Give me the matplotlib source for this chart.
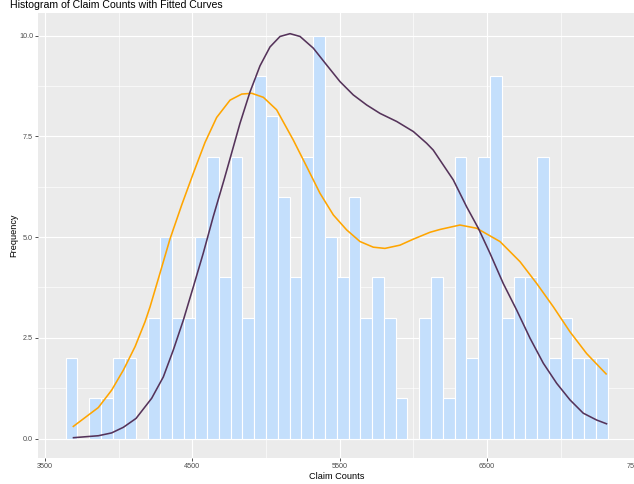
import matplotlib
matplotlib.use("Agg")
import matplotlib.pyplot as plt
import numpy as np

# ---- data ----
bin_start = 3640
bin_width = 80
counts = [2, 0, 1, 1, 2, 2, 0, 3, 5, 3, 3, 5, 7, 4, 7, 3, 9, 8, 6, 4, 7, 10, 5, 4,
          6, 3, 4, 3, 1, 0, 3, 4, 1, 7, 2, 7, 9, 3, 4, 4, 7, 2, 3, 2, 2, 2]

orange_x = [3688, 3862, 3952, 4032, 4111, 4179, 4213, 4280, 4348, 4428, 4506, 4586,
            4665, 4756, 4835, 4903, 4982, 5072, 5185, 5276, 5366, 5457, 5547, 5638,
            5728, 5807, 5909, 6000, 6113, 6181, 6316, 6430, 6588, 6724, 6837, 6950,
            7063, 7176, 7312]
orange_y = [0.29, 0.77, 1.20, 1.70, 2.28, 2.90, 3.27, 4.10, 4.95, 5.80, 6.58, 7.35,
            7.97, 8.40, 8.55, 8.57, 8.47, 8.16, 7.41, 6.75, 6.09, 5.55, 5.18, 4.89,
            4.75, 4.72, 4.80, 4.95, 5.12, 5.19, 5.30, 5.22, 4.89, 4.39, 3.85, 3.27,
            2.65, 2.11, 1.59]

purple_x = [3688, 3862, 3952, 4032, 4118, 4224, 4303, 4371, 4439, 4507, 4574, 4642,
            4715, 4756, 4823, 4891, 4959, 5027, 5095, 5163, 5231, 5321, 5412, 5502,
            5592, 5683, 5774, 5887, 6000, 6090, 6135, 6271, 6362, 6441, 6520, 6610,
            6701, 6792, 6882, 6973, 7063, 7153, 7244, 7316]
purple_y = [0.02, 0.07, 0.14, 0.28, 0.50, 1.00, 1.53, 2.20, 2.94, 3.77, 4.60, 5.51,
            6.42, 6.95, 7.82, 8.60, 9.25, 9.72, 9.98, 10.05, 9.98, 9.69, 9.27, 8.86,
            8.53, 8.28, 8.07, 7.87, 7.62, 7.33, 7.16, 6.42, 5.75, 5.22, 4.60, 3.85,
            3.19, 2.49, 1.87, 1.37, 0.96, 0.63, 0.46, 0.36]

x_ticks = [3500, 4500, 5500, 6500, 7500]
x_minor = [4000, 5000, 6000, 7000]
y_ticks = [0.0, 2.5, 5.0, 7.5, 10.0]
y_minor = [1.25, 3.75, 6.25, 8.75]

title = "Histogram of Claim Counts with Fitted Curves"
xlabel = "Claim Counts"
ylabel = "Frequency"

# ---- figure ----
plt.rcParams['font.family'] = ['Liberation Sans', 'DejaVu Sans']
W, H = 634, 484
fig = plt.figure(figsize=(W / 100, H / 100), dpi=100)
left = 38.3 / W
right = 635.1 / W
bottom = (H - 458.3) / H
top = (H - 12.7) / H
ax = fig.add_axes([left, bottom, right - left, top - bottom])
ax.set_facecolor("#EBEBEB")

edges = bin_start + bin_width * np.arange(len(counts) + 1)
centers = (edges[:-1] + edges[1:]) / 2
ax.bar(centers, counts, width=bin_width, color="#C4DFFC", edgecolor="white",
       linewidth=0.8, zorder=2)

ax.plot(orange_x, orange_y, color="#FFA500", lw=1.15, zorder=3,
        solid_capstyle="butt", solid_joinstyle="round")
ax.plot(purple_x, purple_y, color="#55335A", lw=1.15, zorder=4,
        solid_capstyle="butt", solid_joinstyle="round")

ax.set_xlim(3454.5, 7505)
ax.set_ylim(-0.49, 10.57)
ax.set_xticks(x_ticks)
ax.set_xticklabels([str(t) for t in x_ticks])
ax.set_xticks(x_minor, minor=True)
ax.set_yticks(y_ticks)
ax.set_yticklabels([f"{t:.1f}" for t in y_ticks])
ax.set_yticks(y_minor, minor=True)

ax.grid(which="major", color="white", lw=0.85, zorder=0)
ax.grid(which="minor", color="white", lw=0.45, zorder=0)
ax.set_axisbelow(True)
for s in ax.spines.values():
    s.set_visible(False)

ax.tick_params(which="major", length=2.2, width=0.6, color="#333333",
               labelsize=5.2, labelcolor="#4D4D4D", pad=1.5)
ax.tick_params(which="minor", length=0)

ax.set_xlabel(xlabel, fontsize=6.6, color="black", labelpad=1)
ax.set_ylabel(ylabel, fontsize=6.6, color="black", labelpad=0.5)

fig.text(10 / W, 1 - 4.5 / H, title, fontsize=7.6, color="black",
         ha="left", va="center")

fig.savefig("out.png", dpi=100)
